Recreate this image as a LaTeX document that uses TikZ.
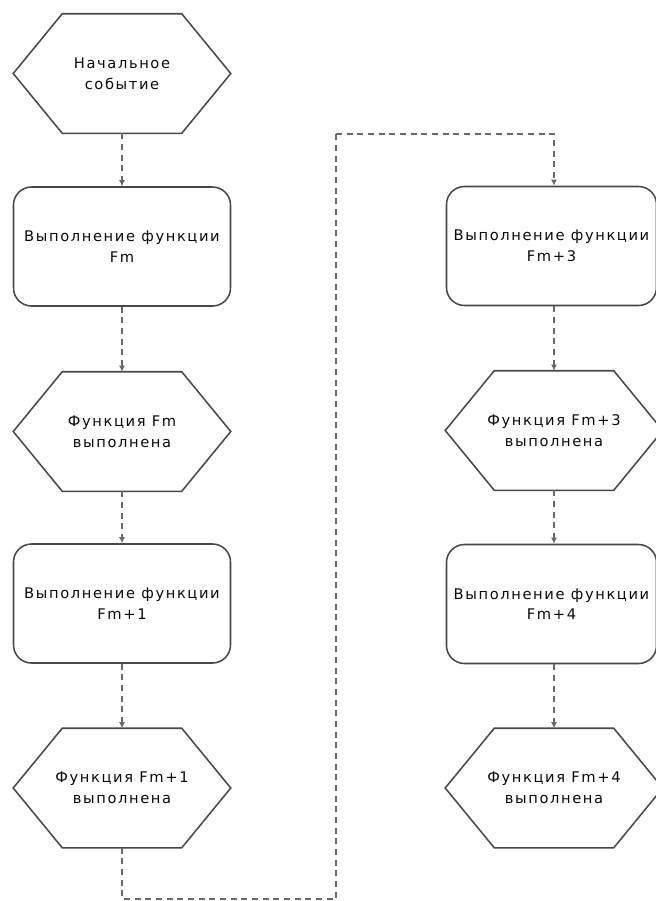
\documentclass[tikz,border=0pt]{standalone}
\usepackage{fontspec}
\setmainfont{DejaVu Sans}[LetterSpace=11]
\usetikzlibrary{arrows.meta,calc}

\definecolor{edgegray}{RGB}{72,72,72}
\definecolor{flowgray}{RGB}{105,105,105}
\definecolor{textdark}{RGB}{10,10,10}

\tikzset{
  % sizes are given in pixels: 1px = 0.75pt
  hexnode/.style={shape=rectangle, inner sep=0pt, minimum width=162.75pt,
    minimum height=89.25pt, align=center, text=textdark,
    font=\fontsize{11}{15.5}\selectfont},
  funcbox/.style={shape=rectangle, draw=edgegray, line width=1.15pt,
    rounded corners=13.5pt, inner sep=0pt, minimum width=162.75pt,
    minimum height=89.25pt, align=center, text=textdark,
    font=\fontsize{11}{15.5}\selectfont},
  funcboxr/.style={funcbox, minimum width=157.5pt},
  hexline/.style={draw=edgegray, line width=1.15pt, line join=miter},
  flowplain/.style={draw=flowgray, line width=1.35pt, dash pattern=on 4.5pt off 3.5pt},
  flow/.style={flowplain, -{Latex[length=4.5pt,width=4.5pt]}}
}

\begin{document}
\begin{tikzpicture}[x=0.75pt,y=-0.75pt]
  \useasboundingbox (0,0) rectangle (656,901);
  \fill[white] (0,0) rectangle (656,901);
  \clip (0,0) rectangle (656,901);

  % left column
  \node[hexnode] (h1) at (122,73.5) {Начальное\\событие};
  \node[funcbox] (b1) at (122,246.5) {Выполнение функции\\Fm};
  \node[hexnode] (h2) at (122,431.5) {Функция Fm\\выполнена};
  \node[funcbox] (b2) at (122,603.5) {Выполнение функции\\Fm+1};
  \node[hexnode] (h3) at (122,788) {Функция Fm+1\\выполнена};

  % right column
  \node[funcboxr] (b3) at (551.5,246) {Выполнение функции\\Fm+3};
  \node[hexnode] (h4) at (554,430.5) {Функция Fm+3\\выполнена};
  \node[funcboxr] (b4) at (551.5,604) {Выполнение функции\\Fm+4};
  \node[hexnode] (h5) at (554,788) {Функция Fm+4\\выполнена};

  % hexagonal outlines of the event nodes
  \foreach \n in {h1,h2,h3,h4,h5}
    \draw[hexline] (\n.west) -- ([xshift=36.75pt]\n.north west)
      -- ([xshift=-36.75pt]\n.north east) -- (\n.east)
      -- ([xshift=-36.75pt]\n.south east) -- ([xshift=36.75pt]\n.south west)
      -- cycle;

  % control flow, left column
  \draw[flow] (h1.south) -- (b1.north);
  \draw[flow] (b1.south) -- (h2.north);
  \draw[flow] (h2.south) -- (b2.north);
  \draw[flow] (b2.south) -- (h3.north);

  % transfer to the right column
  \coordinate (low) at (336,899);
  \coordinate (high) at (336,134);
  \draw[flowplain] (h3.south) |- (low) -- (high);
  \draw[flow] (high) -| (h4.north |- b3.north);

  % control flow, right column
  \draw[flow] (h4.north |- b3.south) -- (h4.north);
  \draw[flow] (h4.south) -- (h4.south |- b4.north);
  \draw[flow] (h4.south |- b4.south) -- (h5.north);
\end{tikzpicture}
\end{document}
